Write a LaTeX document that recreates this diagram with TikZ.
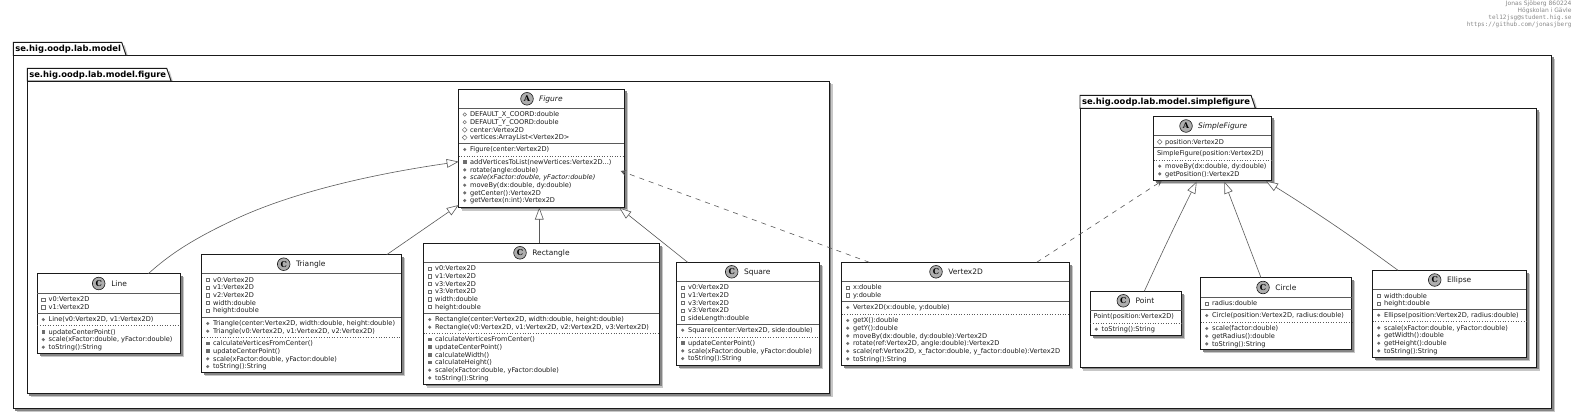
\documentclass[tikz,border=0pt]{standalone}
\usepackage{fontspec}
\setmainfont{DejaVu Sans}
\setmonofont{DejaVu Sans Mono}
\newfontfamily\circfont{DejaVu Serif}
\usetikzlibrary{fit,calc,arrows.meta}
\definecolor{ink}{HTML}{1A1A1A}
\definecolor{edge}{HTML}{5A5A5A}
\definecolor{icon}{HTML}{6E6E6E}
\definecolor{badge}{HTML}{ADADAD}
\definecolor{headc}{HTML}{888888}
\tikzset{
  x=1pt,y=-1pt,
  boxline/.style={draw=ink,line width=0.95pt,fill=white,inner sep=0pt,outer sep=0pt},
  shadowa/.style={fill=black!22,draw=none},
  shadowb/.style={fill=black!48,draw=none},
  sepsolid/.style={draw=edge,line width=0.6pt},
  sepdot/.style={draw=edge,line width=0.6pt,dotted},
  membertext/.style={anchor=base west,inner sep=0pt,outer sep=0pt,text=ink,font=\fontsize{6.6}{7.67}\selectfont},
  nametext/.style={anchor=base west,inner sep=0pt,outer sep=0pt,text=ink,font=\fontsize{7.5}{9}\selectfont},
  pkgtext/.style={anchor=base west,inner sep=0pt,outer sep=0pt,text=black,font=\fontsize{8.4}{10}\selectfont\bfseries},
  headtext/.style={anchor=base east,inner sep=0pt,outer sep=0pt,text=headc},
  badgeshape/.style={circle,draw=ink,line width=0.6pt,fill=badge,minimum size=12.6pt,inner sep=0pt,outer sep=0pt,text=black,font=\fontsize{8}{8}\circfont\bfseries},
  gen/.style={draw=edge,line width=0.6pt,-{Triangle[open,length=12pt,width=8.7pt,fill=white]}},
  dep/.style={draw=edge,line width=0.6pt,dash pattern=on 5pt off 5pt,-{Stealth[length=5.5pt,width=6pt,inset=2.5pt]}},
}
% state
\newcount\memc
\def\cn{}\def\cxa{0}\def\cxb{0}\def\my{0}
\newcommand\pkgbox[8]{% name, x1, ytab, ybody, x2, y2, tabright, title
  \fill[shadowa] (#2+3.4,#4+3.4) rectangle (#5+3.4,#6+3.4);
  \fill[shadowb] (#2+2,#4+2) rectangle (#5+2,#6+2);
  \fill[shadowa] (#7+3,#3+3) -- (#7+7,#4+3) -- (#2+3,#4+3) -- cycle;
  \node[boxline,fit={(#2,#4)(#5,#6)}] (#1) {};
  \draw[boxline] (#2,#4) -- (#2,#3) -- (#7,#3) -- (#7+4.4,#4) -- cycle;
  \node[pkgtext] (#1-title) at (#2+2,#4-3.7) {#8};
}
\newcommand\clsbox[6]{% name,x1,y1,x2,y2,headbottom
  \fill[shadowa] (#2+3.6,#3+3.6) rectangle (#4+3.6,#5+3.6);
  \fill[shadowb] (#2+2.2,#3+2.2) rectangle (#4+2.2,#5+2.2);
  \node[boxline,fit={(#2,#3)(#4,#5)}] (#1) {};
  \draw[sepsolid] (#2,#6) -- (#4,#6);
  \def\cn{#1}\def\cxa{#2}\def\cxb{#4}\global\memc=0
  \pgfmathsetmacro\hy{(#3+#6)/2}
  \def\sy{#6}
  \def\my{#6}
}
\newcommand\clshead[4]{% badge x, name x, letter, title
  \node[badgeshape] (\cn-badge) at (#1,\hy) {#3};
  \node[nametext] (\cn-name) at (#2,\hy+2.7) {#4};
}
\newcommand\solidsep[1]{\draw[sepsolid] (\cxa,#1) -- (\cxb,#1);\def\sy{#1}\def\my{#1}}
\newcommand\dotsep[1]{\draw[sepdot] (\cxa,#1) -- (\cxb,#1);\def\sy{#1}\def\my{#1}}
\newcommand\icpu{\fill[icon] (\ix,\iy) circle (1.7);}
\newcommand\icpm{\fill[icon] (\ix-1.8,\iy-1.8) rectangle (\ix+1.8,\iy+1.8);}
\newcommand\icpv{\draw[icon,line width=0.5pt] (\ix-1.7,\iy-1.7) rectangle (\ix+1.7,\iy+1.7);}
\newcommand\icpo{\draw[icon,line width=0.5pt] (\ix,\iy) circle (1.7);}
\newcommand\icpd{\draw[icon,line width=0.5pt] (\ix-2.4,\iy) -- (\ix,\iy-2.4) -- (\ix+2.4,\iy) -- (\ix,\iy+2.4) -- cycle;}
\newcommand\firstline{\pgfmathsetmacro\iy{\my+6.2}}
\newcommand\memb[2]{% icon, text
  \global\advance\memc by 1
  \ifdim\my pt=\sy pt \pgfmathsetmacro\iy{\my+6.2}\else \pgfmathsetmacro\iy{\my+7.67}\fi
  \let\my\iy
  \pgfmathsetmacro\ix{\cxa+6}
  \csname ic#1\endcsname
  \node[membertext] (\cn-m\the\memc) at (\cxa+11.4,\iy+2.4) {#2};
}
\newcommand\plain[1]{%
  \global\advance\memc by 1
  \ifdim\my pt=\sy pt \pgfmathsetmacro\iy{\my+6.2}\else \pgfmathsetmacro\iy{\my+7.67}\fi
  \let\my\iy
  \node[membertext] (\cn-m\the\memc) at (\cxa+3.3,\iy+2.4) {#1};
}
\begin{document}
\begin{tikzpicture}
\useasboundingbox (0,0) rectangle (1578,414);
% header
\node[headtext,font=\fontsize{6}{7}\selectfont] (h1) at (1571.5,5.4) {Jonas Sjöberg 860224};
\node[headtext,font=\fontsize{6}{7}\selectfont] (h2) at (1571.5,12.4) {Högskolan i Gävle};
\node[headtext,font=\fontsize{6}{7}\ttfamily] (h3) at (1571.5,19.6) {tel12jsg@student.hig.se};
\node[headtext,font=\fontsize{6}{7}\ttfamily] (h4) at (1571.5,26.6) {https://github.com/jonasjberg};
% packages
\pkgbox{model}{13.3}{42.3}{55.5}{1551.7}{408.7}{121.7}{se.hig.oodp.lab.model}
\pkgbox{figpkg}{27.3}{68.3}{81}{829.3}{393.7}{166.7}{se.hig.oodp.lab.model.figure}
\pkgbox{simplepkg}{1080}{95.3}{108.3}{1536.7}{367.3}{1251}{se.hig.oodp.lab.model.simplefigure}
% Figure
\clsbox{figure}{458.7}{89.3}{624.3}{207}{108.3}
\clshead{527}{539}{A}{\itshape Figure}
\memb{po}{DEFAULT\_X\_COORD:double}
\memb{po}{DEFAULT\_Y\_COORD:double}
\memb{pd}{center:Vertex2D}
\memb{pd}{vertices:ArrayList<Vertex2D>}
\solidsep{143.3}
\memb{pu}{Figure(center:Vertex2D)}
\dotsep{156}
\memb{pm}{addVerticesToList(newVertices:Vertex2D...)}
\memb{pu}{rotate(angle:double)}
\memb{pu}{\itshape scale(xFactor:double, yFactor:double)}
\memb{pu}{moveBy(dx:double, dy:double)}
\memb{pu}{getCenter():Vertex2D}
\memb{pu}{getVertex(n:int):Vertex2D}
% Line
\clsbox{line}{37.3}{273.7}{180.3}{353.3}{293.3}
\clshead{98.7}{111.3}{C}{Line}
\memb{pv}{v0:Vertex2D}
\memb{pv}{v1:Vertex2D}
\solidsep{313.3}
\memb{pu}{Line(v0:Vertex2D, v1:Vertex2D)}
\dotsep{325.7}
\memb{pm}{updateCenterPoint()}
\memb{pu}{scale(xFactor:double, yFactor:double)}
\memb{pu}{toString():String}
% Triangle
\clsbox{triangle}{201.7}{254.7}{401.3}{372.3}{273.7}
\clshead{283.7}{296}{C}{Triangle}
\memb{pv}{v0:Vertex2D}
\memb{pv}{v1:Vertex2D}
\memb{pv}{v2:Vertex2D}
\memb{pv}{width:double}
\memb{pv}{height:double}
\solidsep{317.3}
\memb{pu}{Triangle(center:Vertex2D, width:double, height:double)}
\memb{pu}{Triangle(v0:Vertex2D, v1:Vertex2D, v2:Vertex2D)}
\dotsep{337.3}
\memb{pm}{calculateVerticesFromCenter()}
\memb{pm}{updateCenterPoint()}
\memb{pu}{scale(xFactor:double, yFactor:double)}
\memb{pu}{toString():String}
% Rectangle
\clsbox{rectangle}{423.7}{243.3}{659.3}{384}{262.3}
\clshead{520}{532.3}{C}{Rectangle}
\memb{pv}{v0:Vertex2D}
\memb{pv}{v1:Vertex2D}
\memb{pv}{v3:Vertex2D}
\memb{pv}{v3:Vertex2D}
\memb{pv}{width:double}
\memb{pv}{height:double}
\solidsep{313.3}
\memb{pu}{Rectangle(center:Vertex2D, width:double, height:double)}
\memb{pu}{Rectangle(v0:Vertex2D, v1:Vertex2D, v2:Vertex2D, v3:Vertex2D)}
\dotsep{333.3}
\memb{pm}{calculateVerticesFromCenter()}
\memb{pm}{updateCenterPoint()}
\memb{pm}{calculateWidth()}
\memb{pm}{calculateHeight()}
\memb{pu}{scale(xFactor:double, yFactor:double)}
\memb{pu}{toString():String}
% Square
\clsbox{square}{676.7}{262.3}{819.3}{365.3}{281.3}
\clshead{731.7}{744}{C}{Square}
\memb{pv}{v0:Vertex2D}
\memb{pv}{v1:Vertex2D}
\memb{pv}{v3:Vertex2D}
\memb{pv}{v3:Vertex2D}
\memb{pv}{sideLength:double}
\solidsep{324}
\memb{pu}{Square(center:Vertex2D, side:double)}
\dotsep{337}
\memb{pm}{updateCenterPoint()}
\memb{pu}{scale(xFactor:double, yFactor:double)}
\memb{pu}{toString():String}
% Vertex2D
\clsbox{vertex}{841.7}{262.3}{1069.3}{365.3}{281.3}
\clshead{936}{948.3}{C}{Vertex2D}
\memb{pv}{x:double}
\memb{pv}{y:double}
\solidsep{301.3}
\memb{pu}{Vertex2D(x:double, y:double)}
\dotsep{314.3}
\memb{pu}{getX():double}
\memb{pu}{getY():double}
\memb{pu}{moveBy(dx:double, dy:double):Vertex2D}
\memb{pu}{rotate(ref:Vertex2D, angle:double):Vertex2D}
\memb{pu}{scale(ref:Vertex2D, x\_factor:double, y\_factor:double):Vertex2D}
\memb{pu}{toString():String}
% SimpleFigure
\clsbox{simplefig}{1153.7}{116.3}{1271.3}{180.7}{135.7}
\clshead{1186}{1198}{A}{\itshape SimpleFigure}
\memb{pd}{position:Vertex2D}
\solidsep{147.3}
\plain{SimpleFigure(position:Vertex2D)}
\dotsep{160}
\memb{pu}{moveBy(dx:double, dy:double)}
\memb{pu}{getPosition():Vertex2D}
% Point
\clsbox{point}{1090.3}{291.3}{1181.7}{335.7}{310.3}
\clshead{1123.3}{1135.7}{C}{Point}
\plain{Point(position:Vertex2D)}
\dotsep{323}
\memb{pu}{toString():String}
% Circle
\clsbox{circle}{1200.7}{277.7}{1351.7}{349.3}{297.3}
\clshead{1263}{1275.3}{C}{Circle}
\memb{pv}{radius:double}
\solidsep{309.3}
\memb{pu}{Circle(position:Vertex2D, radius:double)}
\dotsep{322.3}
\memb{pu}{scale(factor:double)}
\memb{pu}{getRadius():double}
\memb{pu}{toString():String}
% Ellipse
\clsbox{ellipse}{1372.7}{270.3}{1526.3}{357.3}{289.7}
\clshead{1434.7}{1447}{C}{Ellipse}
\memb{pv}{width:double}
\memb{pv}{height:double}
\solidsep{309}
\memb{pu}{Ellipse(position:Vertex2D, radius:double)}
\dotsep{321.7}
\memb{pu}{scale(xFactor:double, yFactor:double)}
\memb{pu}{getWidth():double}
\memb{pu}{getHeight():double}
\memb{pu}{toString():String}
% connectors
\draw[gen] ($(line.north west)+(111,0)$) .. controls (168,256) and (190,240) .. (240,217) .. controls (300,190) and (380,173) .. ($(figure.north west)+(0,72.4)$);
\draw[gen] ($(triangle.north west)+(185,0)$) -- ($(figure.north west)+(0,115.7)$);
\draw[gen] ($(rectangle.north west)+(115.6,0)$) -- ($(figure.north west)+(80.6,118.2)$);
\draw[gen] ($(square.north west)+(11,0)$) -- ($(figure.north west)+(160.6,118.4)$);
\draw[dep] ($(vertex.north west)+(27.6,0)$) -- ($(figure.north east)+(-3.6,81.7)$);
\draw[dep] ($(vertex.north west)+(195,0)$) -- ($(simplefig.north west)+(8,64.7)$);
\draw[gen] ($(point.north west)+(54,0)$) .. controls (1163,250) and (1180,215) .. ($(simplefig.north west)+(43,65.2)$);
\draw[gen] ($(circle.north west)+(60.3,0)$) -- ($(simplefig.north west)+(70.6,65.2)$);
\draw[gen] ($(ellipse.north west)+(25.3,0)$) .. controls (1370,250) and (1335,224) .. ($(simplefig.north west)+(112.3,64.7)$);
\end{tikzpicture}
\end{document}
